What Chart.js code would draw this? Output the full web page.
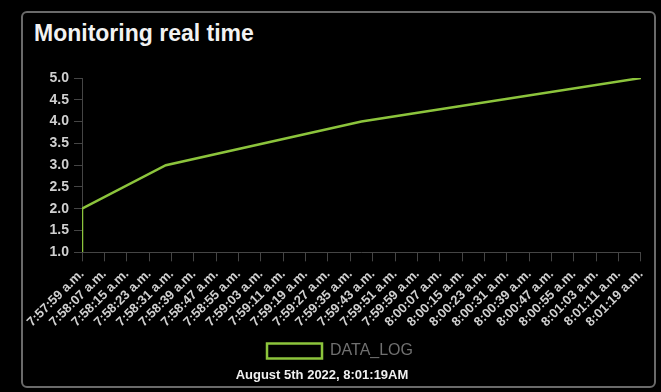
<!DOCTYPE html>
<html>
<head>
<meta charset="utf-8">
<script src="https://cdn.jsdelivr.net/npm/chart.js@4"></script>
<style>
  html, body { margin: 0; padding: 0; background: #000; }
  body { width: 661px; height: 392px; position: relative; overflow: hidden; font-family: "Liberation Sans", Arial, sans-serif; }
  .card {
    position: absolute; left: 21px; top: 11px; width: 631px; height: 373px;
    border: 2px solid #6a6a6a; border-radius: 6px; background: #000;
  }
  .card h2 {
    position: absolute; left: 11px; top: 7px; margin: 0;
    color: #f2f2f2; font-size: 23px; font-weight: bold;
  }
  .chart-box { position: absolute; left: 0; top: 44px; width: 634px; height: 314px; }
  .stamp {
    position: absolute; left: 0; width: 598px; top: 354px; text-align: center;
    color: #f0f0f0; font-size: 13px; font-weight: bold;
  }
</style>
</head>
<body>
<div class="card">
  <h2>Monitoring real time</h2>
  <div class="chart-box"><canvas id="logChart"></canvas></div>
  <div class="stamp" id="stamp"></div>
</div>
<script>
// x axis labels, one every 8 seconds from 7:57:59
const timeLabels = [
  "7:57:59 a.m.", "7:58:07 a.m.", "7:58:15 a.m.", "7:58:23 a.m.", "7:58:31 a.m.",
  "7:58:39 a.m.", "7:58:47 a.m.", "7:58:55 a.m.", "7:59:03 a.m.", "7:59:11 a.m.",
  "7:59:19 a.m.", "7:59:27 a.m.", "7:59:35 a.m.", "7:59:43 a.m.", "7:59:51 a.m.",
  "7:59:59 a.m.", "8:00:07 a.m.", "8:00:15 a.m.", "8:00:23 a.m.", "8:00:31 a.m.",
  "8:00:39 a.m.", "8:00:47 a.m.", "8:00:55 a.m.", "8:01:03 a.m.", "8:01:11 a.m.",
  "8:01:19 a.m."
];
const tickStep = 8; // seconds between labels

// logged points: seconds after 7:57:59 and value
const logSeconds = [0, 0, 30, 100, 200];
const logValues = [1, 2, 3, 4, 5];

const updatedAt = "August 5th 2022, 8:01:19AM";

const lineColor = "#8cc43c";
const axisColor = "#454545";
const tickFont = { family: "Liberation Sans", size: 13, weight: "bold" };

document.getElementById("stamp").textContent = updatedAt;

const ctx = document.getElementById("logChart").getContext("2d");
new Chart(ctx, {
  type: "line",
  data: {
    datasets: [
      {
        label: "DATA_LOG",
        data: logSeconds.map((s, i) => ({ x: s, y: logValues[i] })),
        borderColor: lineColor,
        backgroundColor: "#000",
        borderWidth: 2.5,
        pointRadius: 0,
        tension: 0,
      },
    ],
  },
  options: {
    responsive: true,
    maintainAspectRatio: false,
    animation: false,
    layout: { padding: { left: 0, right: 0, top: 21, bottom: 2 } },
    scales: {
      x: {
        type: "linear",
        min: 0,
        max: (timeLabels.length - 1) * tickStep,
        grid: { drawOnChartArea: false, color: axisColor, tickLength: 9 },
        border: { color: axisColor },
        ticks: {
          stepSize: tickStep,
          autoSkip: false,
          minRotation: 45,
          maxRotation: 45,
          padding: 5,
          color: "#d0d0d0",
          font: tickFont,
          callback: (v) => timeLabels[Math.round(v / tickStep)],
        },
      },
      y: {
        min: 1,
        max: 5,
        afterFit: (scale) => { scale.width = 59; },
        grid: { drawOnChartArea: false, color: axisColor, tickLength: 8 },
        border: { color: axisColor },
        ticks: {
          stepSize: 0.5,
          padding: 5,
          color: "#d0d0d0",
          font: { family: "Liberation Sans", size: 14, weight: "bold" },
          callback: (v) => v.toFixed(1),
        },
      },
    },
    plugins: {
      legend: {
        position: "bottom",
        labels: {
          boxWidth: 55,
          boxHeight: 15,
          color: "#707070",
          font: { family: "Liberation Sans", size: 16 },
          padding: 8,
        },
      },
      tooltip: { enabled: false },
    },
  },
});
</script>
</body>
</html>
